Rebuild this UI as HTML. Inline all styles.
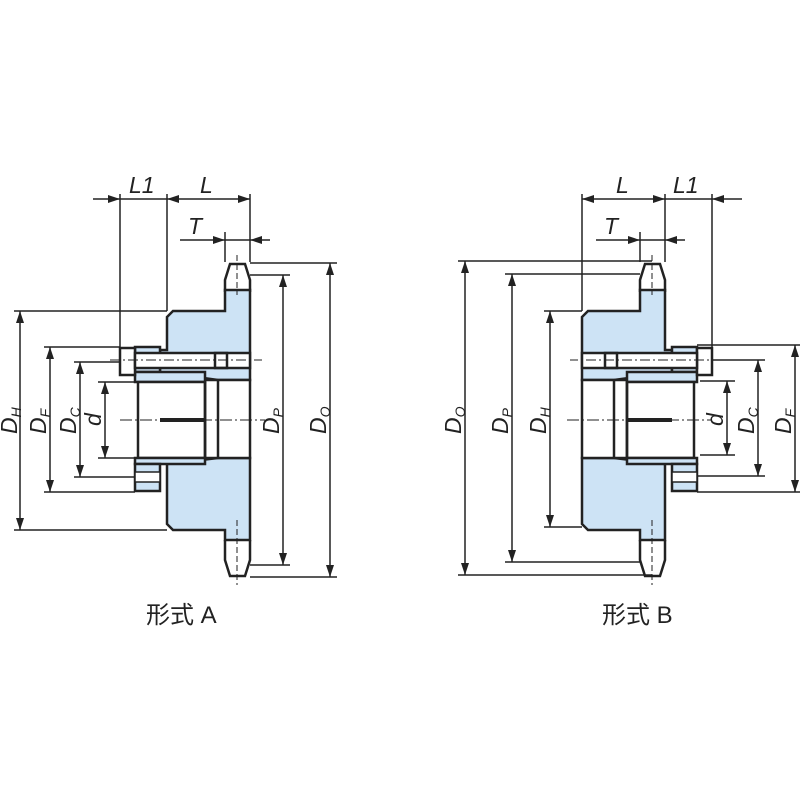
<!DOCTYPE html>
<html><head><meta charset="utf-8"><style>
body{margin:0;background:#fff}
svg{display:block}
text{font-family:"Liberation Sans","Noto Sans CJK JP",sans-serif;fill:#222}
.it{font-style:italic;font-size:23px}
.sb{font-size:14px}
</style></head><body>
<svg width="800" height="800" viewBox="0 0 800 800" xmlns="http://www.w3.org/2000/svg">
<defs>
<marker id="ar" markerWidth="12" markerHeight="8" refX="12" refY="4" orient="auto-start-reverse" markerUnits="userSpaceOnUse"><path d="M0,0 L12,4 L0,8 Z" fill="#222"/></marker>
<g id="bush">
  <rect x="135" y="347" width="25" height="25" fill="#cde3f5" stroke="#222" stroke-width="2.5"/>
  <rect x="135" y="372" width="70" height="10" fill="#cde3f5" stroke="#222" stroke-width="2.5"/>
  <rect x="120" y="348" width="15" height="27" fill="#fff" stroke="#222" stroke-width="2.5"/>
  <rect x="135" y="353" width="115" height="15" fill="#fff" stroke="#222" stroke-width="2.5"/>
  <rect x="215" y="353" width="12" height="15" fill="none" stroke="#222" stroke-width="2.5"/>
  <line x1="110" y1="360" x2="262" y2="360" stroke="#222" stroke-width="1" stroke-dasharray="10,3,2,3"/>
  <rect x="138" y="382" width="67" height="76" fill="#fff" stroke="#222" stroke-width="2.5"/>
  <rect x="135" y="458" width="70" height="6" fill="#cde3f5" stroke="#222" stroke-width="2.5"/>
  <rect x="135" y="464" width="25" height="27" fill="#cde3f5" stroke="#222" stroke-width="2.5"/>
  <rect x="135" y="472" width="25" height="10" fill="#fff" stroke="#222" stroke-width="1.5"/>
  <line x1="160" y1="420" x2="205" y2="420" stroke="#222" stroke-width="4"/>
  <line x1="205" y1="382" x2="205" y2="458" stroke="#222" stroke-width="2.5"/>
</g>
</defs>

<!-- ===== Form A ===== -->
<g stroke="#222" stroke-width="2.5" fill="#cde3f5">
  <path d="M225,292 L225,280 L230,264 L245,264 L250,280 L250,292" fill="#fff"/>
  <path d="M167,317 L173,311 L225,311 L225,290 L250,290 L250,380 L218,380 L160,372 L160,350 L167,350 Z"/>
  <path d="M225,540 L225,560 L230,576 L245,576 L250,560 L250,540" fill="#fff"/>
  <path d="M167,464 L218,458 L250,458 L250,540 L225,540 L225,530 L173,530 L167,524 Z"/>
  <rect x="205" y="380" width="45" height="78" fill="#fff"/>
  <line x1="218" y1="380" x2="218" y2="458"/>
</g>
<use href="#bush"/>
<line x1="237" y1="255" x2="237" y2="295" stroke="#222" stroke-width="1" stroke-dasharray="6,3"/>
<line x1="237" y1="520" x2="237" y2="585" stroke="#222" stroke-width="1" stroke-dasharray="6,3"/>
<line x1="120" y1="420" x2="265" y2="420" stroke="#222" stroke-width="1" stroke-dasharray="12,3,2,3"/>

<g stroke="#222" stroke-width="1.5" fill="none">
  <line x1="120" y1="194" x2="120" y2="348"/>
  <line x1="167" y1="194" x2="167" y2="311"/>
  <line x1="250" y1="194" x2="250" y2="262"/>
  <line x1="225" y1="232" x2="225" y2="262"/>
  <line x1="93" y1="199" x2="120" y2="199" marker-end="url(#ar)"/>
  <line x1="120" y1="199" x2="167" y2="199"/>
  <line x1="167" y1="199" x2="250" y2="199" marker-start="url(#ar)" marker-end="url(#ar)"/>
  <line x1="180" y1="240" x2="225" y2="240" marker-end="url(#ar)"/>
  <line x1="225" y1="240" x2="250" y2="240"/>
  <line x1="270" y1="240" x2="250" y2="240" marker-end="url(#ar)"/>
  <line x1="14" y1="311" x2="167" y2="311"/>
  <line x1="14" y1="530" x2="167" y2="530"/>
  <line x1="44" y1="347" x2="120" y2="347"/>
  <line x1="44" y1="492" x2="135" y2="492"/>
  <line x1="74" y1="362" x2="120" y2="362"/>
  <line x1="74" y1="477" x2="135" y2="477"/>
  <line x1="98" y1="382" x2="135" y2="382"/>
  <line x1="98" y1="458" x2="135" y2="458"/>
  <line x1="250" y1="275" x2="290" y2="275"/>
  <line x1="250" y1="565" x2="290" y2="565"/>
  <line x1="250" y1="263" x2="337" y2="263"/>
  <line x1="250" y1="577" x2="337" y2="577"/>
  <line x1="20" y1="311" x2="20" y2="530" marker-start="url(#ar)" marker-end="url(#ar)"/>
  <line x1="50" y1="347" x2="50" y2="492" marker-start="url(#ar)" marker-end="url(#ar)"/>
  <line x1="80" y1="362" x2="80" y2="477" marker-start="url(#ar)" marker-end="url(#ar)"/>
  <line x1="105" y1="382" x2="105" y2="458" marker-start="url(#ar)" marker-end="url(#ar)"/>
  <line x1="283" y1="275" x2="283" y2="565" marker-start="url(#ar)" marker-end="url(#ar)"/>
  <line x1="330" y1="263" x2="330" y2="577" marker-start="url(#ar)" marker-end="url(#ar)"/>
</g>
<text class="it" x="129" y="193">L1</text>
<text class="it" x="200" y="193">L</text>
<text class="it" x="188" y="234">T</text>
<g class="it">
<text transform="translate(17,434) rotate(-90)">D<tspan class="sb" dy="4">H</tspan></text>
<text transform="translate(46,434) rotate(-90)">D<tspan class="sb" dy="4">F</tspan></text>
<text transform="translate(76,434) rotate(-90)">D<tspan class="sb" dy="4">C</tspan></text>
<text transform="translate(101,426) rotate(-90)">d</text>
<text transform="translate(279,434) rotate(-90)">D<tspan class="sb" dy="4">P</tspan></text>
<text transform="translate(326,434) rotate(-90)">D<tspan class="sb" dy="4">O</tspan></text>
</g>
<text x="146" y="623" font-size="24">形式 A</text>

<!-- ===== Form B ===== -->
<g stroke="#222" stroke-width="2.5" fill="#cde3f5">
  <path d="M640,292 L640,280 L645,264 L660,264 L665,280 L665,292" fill="#fff"/>
  <path d="M582,317 L588,311 L640,311 L640,290 L665,290 L665,350 L672,350 L672,372 L614,380 L582,380 Z"/>
  <path d="M640,540 L640,560 L645,576 L660,576 L665,560 L665,540" fill="#fff"/>
  <path d="M582,458 L614,458 L665,464 L665,540 L640,540 L640,530 L588,530 L582,524 Z"/>
  <rect x="582" y="380" width="45" height="78" fill="#fff"/>
  <line x1="614" y1="380" x2="614" y2="458"/>
</g>
<use href="#bush" transform="matrix(-1,0,0,1,832,0)"/>
<line x1="652" y1="255" x2="652" y2="295" stroke="#222" stroke-width="1" stroke-dasharray="6,3"/>
<line x1="652" y1="520" x2="652" y2="585" stroke="#222" stroke-width="1" stroke-dasharray="6,3"/>
<line x1="567" y1="420" x2="712" y2="420" stroke="#222" stroke-width="1" stroke-dasharray="12,3,2,3"/>

<g stroke="#222" stroke-width="1.5" fill="none">
  <line x1="582" y1="194" x2="582" y2="311"/>
  <line x1="665" y1="194" x2="665" y2="262"/>
  <line x1="712" y1="194" x2="712" y2="348"/>
  <line x1="640" y1="232" x2="640" y2="262"/>
  <line x1="582" y1="199" x2="665" y2="199" marker-start="url(#ar)" marker-end="url(#ar)"/>
  <line x1="665" y1="199" x2="712" y2="199"/>
  <line x1="742" y1="199" x2="712" y2="199" marker-end="url(#ar)"/>
  <line x1="596" y1="240" x2="640" y2="240" marker-end="url(#ar)"/>
  <line x1="640" y1="240" x2="665" y2="240"/>
  <line x1="685" y1="240" x2="665" y2="240" marker-end="url(#ar)"/>
  <line x1="458" y1="261" x2="652" y2="261"/>
  <line x1="458" y1="575" x2="652" y2="575"/>
  <line x1="505" y1="274" x2="640" y2="274"/>
  <line x1="505" y1="562" x2="640" y2="562"/>
  <line x1="544" y1="311" x2="582" y2="311"/>
  <line x1="544" y1="527" x2="582" y2="527"/>
  <line x1="697" y1="345" x2="800" y2="345"/>
  <line x1="697" y1="492" x2="800" y2="492"/>
  <line x1="712" y1="360" x2="765" y2="360"/>
  <line x1="697" y1="476" x2="765" y2="476"/>
  <line x1="700" y1="381" x2="735" y2="381"/>
  <line x1="700" y1="455" x2="735" y2="455"/>
  <line x1="465" y1="261" x2="465" y2="575" marker-start="url(#ar)" marker-end="url(#ar)"/>
  <line x1="512" y1="274" x2="512" y2="562" marker-start="url(#ar)" marker-end="url(#ar)"/>
  <line x1="550" y1="311" x2="550" y2="527" marker-start="url(#ar)" marker-end="url(#ar)"/>
  <line x1="727" y1="381" x2="727" y2="455" marker-start="url(#ar)" marker-end="url(#ar)"/>
  <line x1="758" y1="360" x2="758" y2="476" marker-start="url(#ar)" marker-end="url(#ar)"/>
  <line x1="795" y1="345" x2="795" y2="492" marker-start="url(#ar)" marker-end="url(#ar)"/>
</g>
<text class="it" x="616" y="193">L</text>
<text class="it" x="673" y="193">L1</text>
<text class="it" x="604" y="234">T</text>
<g class="it">
<text transform="translate(461,434) rotate(-90)">D<tspan class="sb" dy="4">O</tspan></text>
<text transform="translate(508,434) rotate(-90)">D<tspan class="sb" dy="4">P</tspan></text>
<text transform="translate(546,434) rotate(-90)">D<tspan class="sb" dy="4">H</tspan></text>
<text transform="translate(723,426) rotate(-90)">d</text>
<text transform="translate(754,434) rotate(-90)">D<tspan class="sb" dy="4">C</tspan></text>
<text transform="translate(791,434) rotate(-90)">D<tspan class="sb" dy="4">F</tspan></text>
</g>
<text x="602" y="623" font-size="24">形式 B</text>
</svg>
</body></html>
